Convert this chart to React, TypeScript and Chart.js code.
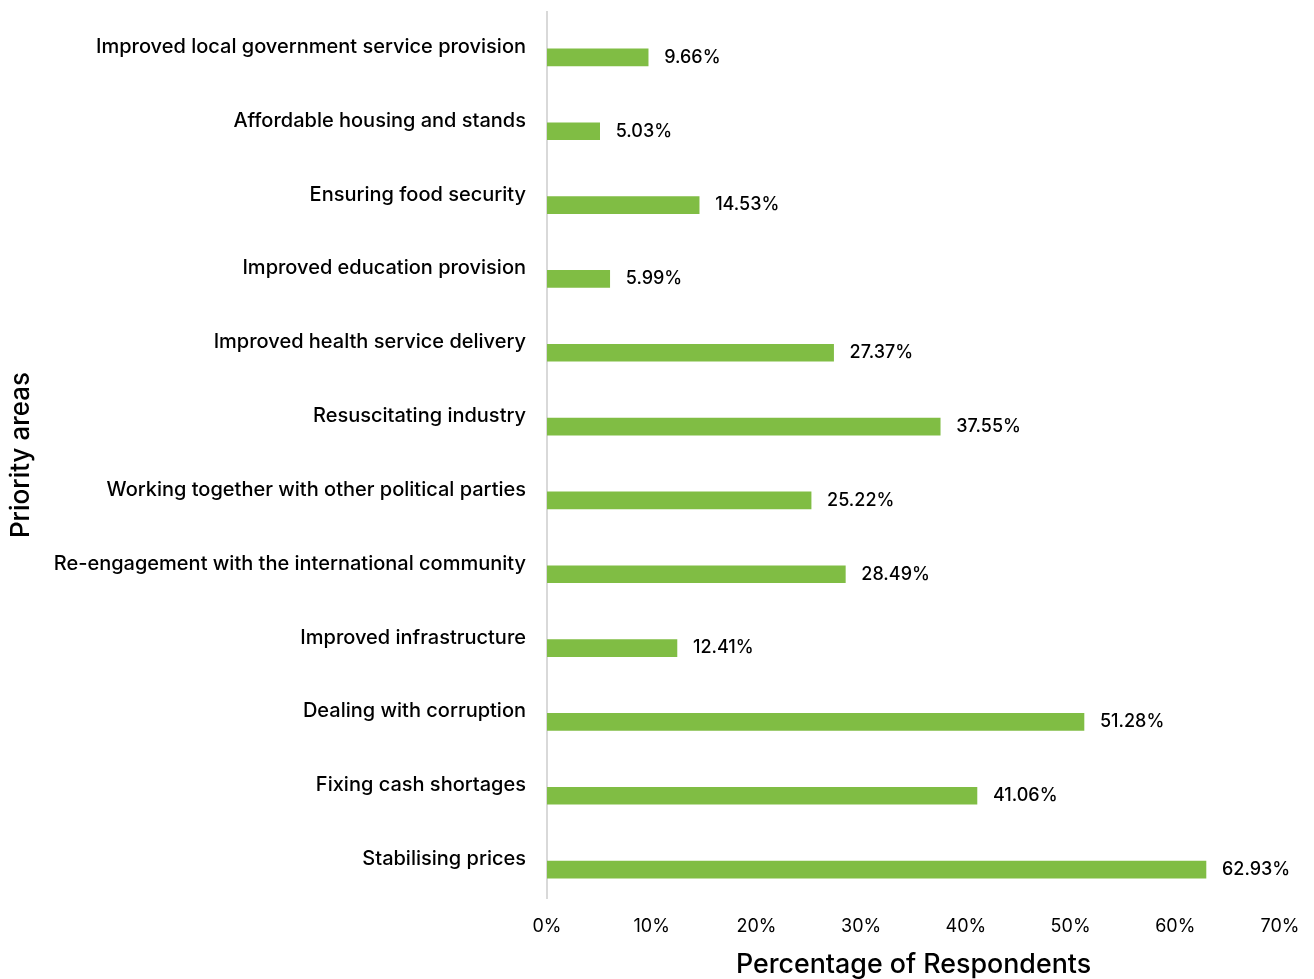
import React, { useEffect, useRef } from "react";
import { Chart, registerables } from "chart.js";

Chart.register(...registerables);

const categories = [
  "Improved local government service provision",
  "Affordable housing and stands",
  "Ensuring food security",
  "Improved education provision",
  "Improved health service delivery",
  "Resuscitating industry",
  "Working together with other political parties",
  "Re-engagement with the international community",
  "Improved infrastructure",
  "Dealing with corruption",
  "Fixing cash shortages",
  "Stabilising prices",
];

const values = [9.66, 5.03, 14.53, 5.99, 27.37, 37.55, 25.22, 28.49, 12.41, 51.28, 41.06, 62.93];

// empty companion series (as in the source workbook) that shifts the bars below the labels
const emptySeries = categories.map(() => 0);

const xTicks = [0, 10, 20, 30, 40, 50, 60, 70];

const FONT = "Inter, 'Open Sans', sans-serif";

const barLabels = {
  id: "barLabels",
  afterDatasetsDraw(chart: any) {
    const ctx = chart.ctx;
    const meta = chart.getDatasetMeta(1);
    ctx.save();
    ctx.font = `500 18px ${FONT}`;
    ctx.fillStyle = "#000";
    ctx.textAlign = "left";
    ctx.textBaseline = "middle";
    meta.data.forEach((el: any, i: number) => {
      ctx.fillText(values[i].toFixed(2) + "%", el.x + 16, el.y);
    });
    ctx.restore();
  },
};

export default function App() {
  const ref = useRef<HTMLCanvasElement>(null);
  useEffect(() => {
    document.body.style.margin = "0";
    const chart = new Chart(ref.current!, {
      type: "bar",
      data: {
        labels: categories,
        datasets: [
          {
            data: emptySeries,
            backgroundColor: "rgba(0,0,0,0)",
            barThickness: 17,
          },
          {
            data: values,
            backgroundColor: "#80BD44",
            barThickness: 17,
          },
        ],
      },
      options: {
        indexAxis: "y",
        animation: false,
        responsive: false,
        maintainAspectRatio: false,
        layout: { padding: { top: 12, right: 34, left: 6, bottom: 0 } },
        plugins: {
          legend: { display: false },
          tooltip: { enabled: false },
        },
        scales: {
          x: {
            min: 0,
            max: 70,
            afterFit(scale: any) {
              scale.height = 81;
              scale.paddingLeft = 0;
              scale.paddingRight = 0;
            },
            afterBuildTicks(scale: any) {
              scale.ticks = xTicks.map((v) => ({ value: v }));
            },
            grid: { display: false, drawTicks: false },
            border: { display: false },
            ticks: {
              font: { family: FONT, size: 18 },
              color: "#000",
              padding: 18,
              callback: (v: any) => v + "%",
            },
            title: {
              display: true,
              text: "Percentage of Respondents",
              font: { family: FONT, size: 26.8, weight: "500" },
              color: "#000",
              padding: { top: 15, bottom: -2 },
            },
          },
          y: {
            afterFit(scale: any) {
              scale.width = 541;
              scale.paddingTop = 0;
              scale.paddingBottom = 0;
            },
            grid: { display: false, drawTicks: false },
            border: { display: true, color: "#d9d9d9", width: 2 },
            ticks: {
              font: { family: FONT, size: 20, weight: "500" },
              color: "#000",
              padding: 21,
              labelOffset: -2,
            },
            title: {
              display: true,
              text: "Priority areas",
              font: { family: FONT, size: 26, weight: "500" },
              color: "#000",
              padding: { top: 0, bottom: 0 },
            },
          },
        },
      },
      plugins: [barLabels],
    });
    return () => chart.destroy();
  }, []);
  return (
    <div style={{ position: "absolute", left: 0, top: 0, width: 1314, height: 979 }}>
      <canvas ref={ref} width={1314} height={979} style={{ width: 1314, height: 979 }} />
    </div>
  );
}
